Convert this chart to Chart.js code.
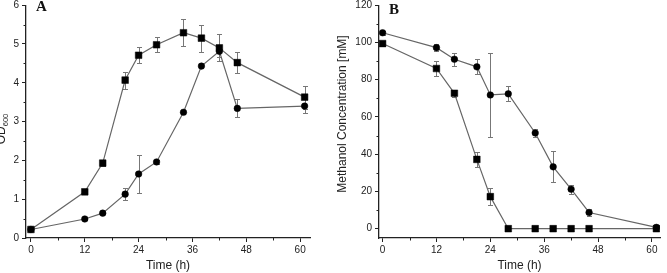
<!DOCTYPE html>
<html>
<head>
<meta charset="utf-8">
<script src="https://cdn.jsdelivr.net/npm/chart.js@4.4.0/dist/chart.umd.min.js"></script>
<style>
  html, body { margin: 0; padding: 0; background: #fff; overflow: hidden; width: 667px; height: 273px; }
  canvas { position: absolute; top: 0; }
</style>
</head>
<body>
<canvas id="odChart" width="340" height="273" style="left:-8px"></canvas>
<canvas id="methanolChart" width="334" height="273" style="left:333px"></canvas>
<script>
// sampling times (h), same for every series
const times = [0, 12, 16, 21, 24, 28, 34, 38, 42, 46, 61];

// panel A: OD600
const odSquare    = [0.22, 1.19, 1.93, 4.07, 4.71, 4.98, 5.29, 5.15, 4.90, 4.52, 3.63];
const odSquareErr = [0.03, 0.03, 0.07, 0.22, 0.20, 0.19, 0.35, 0.35, 0.35, 0.28, 0.30];
const odCircle    = [0.22, 0.49, 0.64, 1.13, 1.65, 1.96, 3.24, 4.43, 4.81, 3.34, 3.40];
const odCircleErr = [0.02, 0.03, 0.03, 0.15, 0.50, 0.04, 0.04, 0.04, 0.15, 0.23, 0.18];

// panel B: methanol concentration (mM)
const meohCircle    = [105.2, 97.2, 91.0, 86.9, 71.8, 72.4, 51.4, 33.2, 21.2, 8.7, 0.7];
const meohCircleErr = [1.0, 2.0, 3.5, 4.0, 22.6, 4.0, 2.0, 8.3, 2.5, 2.0, 1.0];
const meohSquare    = [99.4, 86.0, 72.7, 37.2, 17.2, 0, 0, 0, 0, 0, 0];
const meohSquareErr = [1.5, 3.8, 2.0, 4.0, 4.5, 0, 0, 0, 0, 0, 0];

// tick labels
const xTicks = [0, 12, 24, 36, 48, 60];
const xMinor = [6, 18, 30, 42, 54];
const odTicks = [0, 1, 2, 3, 4, 5, 6];
const odMinor = [0.5, 1.5, 2.5, 3.5, 4.5, 5.5];
const meohTicks = [0, 20, 40, 60, 80, 100, 120];
const meohMinor = [10, 30, 50, 70, 90, 110];

const AXIS = '#222';
const LINE = '#666';
Chart.defaults.font.family = '"Liberation Sans", Arial, sans-serif';
Chart.defaults.color = AXIS;

const pts = (ys) => times.map((t, i) => ({ x: t, y: ys[i] }));

const series = (data, errors, style, radius) => ({
  data: pts(data),
  errors: errors,
  borderColor: LINE,
  borderWidth: 1.2,
  pointStyle: style,
  pointRadius: radius,
  pointBackgroundColor: '#000',
  pointBorderColor: '#000',
  pointBorderWidth: 0.5,
  tension: 0
});

// error bars, minor ticks, panel letter and y title
const makeDecor = (cfg) => ({
  id: 'decor',
  beforeDatasetsDraw(chart) {
    const { ctx, scales: { x, y } } = chart;
    ctx.save();
    ctx.strokeStyle = '#777';
    ctx.lineWidth = 1;
    chart.data.datasets.forEach(ds => {
      ds.errors.forEach((e, i) => {
        if (!e) return;
        const p = ds.data[i];
        const px = Math.round(x.getPixelForValue(p.x)) + 0.5;
        const top = Math.round(y.getPixelForValue(p.y + e)) + 0.5;
        const bot = Math.round(y.getPixelForValue(p.y - e)) + 0.5;
        ctx.beginPath();
        ctx.moveTo(px, top); ctx.lineTo(px, bot);
        ctx.moveTo(px - 2.5, top); ctx.lineTo(px + 2.5, top);
        ctx.moveTo(px - 2.5, bot); ctx.lineTo(px + 2.5, bot);
        ctx.stroke();
      });
    });
    ctx.restore();
  },
  afterDraw(chart) {
    const { ctx, chartArea, scales: { x, y } } = chart;
    ctx.save();
    ctx.strokeStyle = AXIS;
    ctx.lineWidth = 1;
    ctx.beginPath();
    cfg.minorX.forEach(v => {
      const px = Math.round(x.getPixelForValue(v)) + 0.5;
      ctx.moveTo(px, chartArea.bottom); ctx.lineTo(px, chartArea.bottom + 2.5);
    });
    cfg.minorY.forEach(v => {
      const py = Math.round(y.getPixelForValue(v)) + 0.5;
      ctx.moveTo(chartArea.left, py); ctx.lineTo(chartArea.left - 2.5, py);
    });
    ctx.stroke();

    ctx.fillStyle = '#111';
    ctx.textAlign = 'center';
    ctx.textBaseline = 'middle';
    ctx.font = 'bold 15px "Liberation Serif", "Times New Roman", serif';
    ctx.fillText(cfg.letter, cfg.letterX, cfg.letterY);

    // rotated y title, with optional subscript
    ctx.translate(cfg.titleX, cfg.titleY);
    ctx.rotate(-Math.PI / 2);
    ctx.fillStyle = AXIS;
    ctx.font = '12px "Liberation Sans", Arial, sans-serif';
    const mainW = ctx.measureText(cfg.title).width;
    let subW = 0;
    if (cfg.sub) {
      ctx.font = '7.5px "Liberation Sans", Arial, sans-serif';
      subW = ctx.measureText(cfg.sub).width;
    }
    const start = -(mainW + subW) / 2;
    ctx.textAlign = 'left';
    ctx.font = '12px "Liberation Sans", Arial, sans-serif';
    ctx.fillText(cfg.title, start, 0);
    if (cfg.sub) {
      ctx.font = '7.5px "Liberation Sans", Arial, sans-serif';
      ctx.fillText(cfg.sub, start + mainW, 4);
    }
    ctx.restore();
  }
});

const axes = (xMin, xMax, yMin, yMax, yTicks, yWidth, xHeight) => ({
  x: {
    type: 'linear',
    min: xMin,
    max: xMax,
    afterBuildTicks: s => { s.ticks = xTicks.map(v => ({ value: v })); },
    afterFit: s => { s.height = xHeight; s.paddingLeft = 0; s.paddingRight = 0; },
    grid: { drawOnChartArea: false, tickLength: 4, color: AXIS },
    border: { color: AXIS, width: 1.3 },
    ticks: { font: { size: 10 }, padding: 2, maxRotation: 0, autoSkip: false },
    title: { display: true, text: 'Time (h)', font: { size: 12 }, padding: 0 }
  },
  y: {
    type: 'linear',
    min: yMin,
    max: yMax,
    afterBuildTicks: s => { s.ticks = yTicks.map(v => ({ value: v })); },
    afterFit: s => { s.width = yWidth; s.paddingTop = 0; s.paddingBottom = 0; },
    grid: { drawOnChartArea: false, tickLength: 4, color: AXIS },
    border: { color: AXIS, width: 1.3 },
    ticks: { font: { size: 10 }, padding: 3, autoSkip: false }
  }
});

const commonOptions = (padding, scales) => ({
  responsive: false,
  animation: false,
  layout: { padding: padding },
  plugins: { legend: { display: false }, tooltip: { enabled: false } },
  scales: scales
});

new Chart(document.getElementById('odChart').getContext('2d'), {
  type: 'line',
  data: {
    datasets: [
      series(odSquare, odSquareErr, 'rect', 4.7),
      series(odCircle, odCircleErr, 'circle', 3.3)
    ]
  },
  options: commonOptions({ left: 0, right: 22, top: 3, bottom: 0 },
    axes(-1.1, 62.2, 0, 6, odTicks, 34, 35)),
  plugins: [makeDecor({
    minorX: xMinor, minorY: odMinor,
    letter: 'A', letterX: 49.5, letterY: 7,
    title: 'OD', sub: '600', titleX: 9.5, titleY: 129
  })]
});

new Chart(document.getElementById('methanolChart').getContext('2d'), {
  type: 'line',
  data: {
    datasets: [
      series(meohCircle, meohCircleErr, 'circle', 3.3),
      series(meohSquare, meohSquareErr, 'rect', 4.7)
    ]
  },
  options: commonOptions({ left: 0, right: 7, top: 4, bottom: 0 },
    axes(-0.8, 61.8, -5, 120, meohTicks, 46, 35)),
  plugins: [makeDecor({
    minorX: xMinor, minorY: meohMinor,
    letter: 'B', letterX: 61, letterY: 10,
    title: 'Methanol Concentration [mM]', sub: '', titleX: 10, titleY: 114
  })]
});
</script>
</body>
</html>
